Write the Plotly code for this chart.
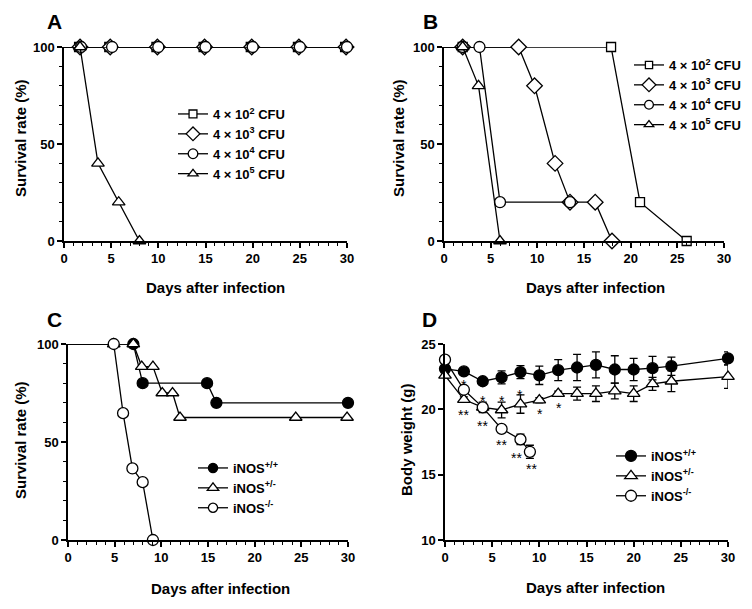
import plotly.graph_objects as go

# ---------------- data ----------------
# Panel A: survival by inoculum dose
a_days_lo = [0, 1.6, 4.8, 9.8, 14.8, 19.8, 24.8, 29.8]
a_surv_lo = [100, 100, 100, 100, 100, 100, 100, 100]
a_days_mid = [0, 1.7, 4.9, 9.9, 14.9, 19.9, 24.9, 29.9]
a_surv_mid = [100, 100, 100, 100, 100, 100, 100, 100]
a_days_hi = [0, 1.8, 5.1, 10, 15, 20, 25, 30]
a_surv_hi = [100, 100, 100, 100, 100, 100, 100, 100]
a_days_max = [0, 1.7, 3.6, 5.8, 8]
a_surv_max = [100, 100, 40, 20, 0]

# Panel B
b_days_lo = [0, 2, 17.9, 21, 26]
b_surv_lo = [100, 100, 100, 20, 0]
b_days_mid = [0, 2, 8, 9.7, 11.9, 13.5, 16.2, 18]
b_surv_mid = [100, 100, 100, 80, 40, 20, 20, 0]
b_days_hi = [0, 2, 3.8, 6, 13.5]
b_surv_hi = [100, 100, 100, 20, 20]
b_days_max = [0, 2, 3.7, 6]
b_surv_max = [100, 100, 80, 0]

dose_labels = ['4 × 10<sup>2</sup> CFU', '4 × 10<sup>3</sup> CFU',
               '4 × 10<sup>4</sup> CFU', '4 × 10<sup>5</sup> CFU']

# Panel C: survival by genotype
c_days_wt = [0, 7, 8, 14.9, 15.9, 30]
c_surv_wt = [100, 100, 80, 80, 70, 70]
c_days_het = [0, 4.9, 7, 7.9, 9.1, 10.1, 11.2, 12, 24.4, 29.9]
c_surv_het = [100, 100, 100, 88.5, 88.5, 75, 75, 62.5, 62.5, 62.5]
c_days_ko = [0, 4.9, 5.9, 6.9, 8, 9.1]
c_surv_ko = [100, 100, 64.7, 36.5, 29.5, 0]

geno_labels = ['iNOS<sup>+/+</sup>', 'iNOS<sup>+/-</sup>', 'iNOS<sup>-/-</sup>']

# Panel D: body weight (mean, SD)
d_days_wt = [0, 2, 4, 6, 8, 10, 12, 14, 16, 18, 20, 22, 24, 30]
d_wt_mean = [23.1, 22.9, 22.15, 22.45, 22.85, 22.6, 23.0, 23.2, 23.4, 23.05, 23.05, 23.15, 23.3, 23.9]
d_wt_sd = [0.2, 0.15, 0.15, 0.5, 0.5, 0.7, 0.8, 1.0, 1.0, 1.05, 0.85, 0.9, 0.7, 0.5]
d_days_het = [0, 2, 4, 6, 8, 10, 12, 14, 16, 18, 20, 22, 24, 30]
d_het_mean = [22.6, 20.75, 20.15, 19.95, 20.4, 20.7, 21.2, 21.2, 21.2, 21.4, 21.2, 21.95, 22.15, 22.5]
d_het_sd = [0.2, 0.2, 0.4, 0.6, 0.7, 0.2, 0.2, 0.5, 0.6, 0.6, 0.6, 0.5, 0.8, 0.9]
d_days_ko = [0, 2, 4, 6, 8, 9]
d_ko_mean = [23.8, 21.5, 20.15, 18.5, 17.7, 16.75]
d_ko_sd = [0.2, 0.2, 0.3, 0.2, 0.4, 0.5]

star_days = [2, 2, 4, 4, 6, 6, 8, 7.6, 9.2, 10.1, 12.1]
star_weights = [22.1, 19.8, 20.9, 18.95, 20.9, 17.5, 21.3, 16.5, 15.7, 19.9, 20.3]
star_labels = ['*', '**', '*', '**', '*', '**', '*', '**', '**', '*', '*']

# ---------------- styling ----------------
FONT = 'Liberation Sans'
PAD = 8                      # page body margin around the plot div
W, H = 752 - 2 * PAD, 609 - 2 * PAD


def px_x(p):
    return (p - PAD) / W


def px_y(p):
    return 1 - (p - PAD) / H


def line_trace(x, y, name, symbol, fill, xa, ya, leg, size=10, skip_first=True):
    sizes = [size] * len(x)
    if skip_first:
        sizes[0] = 0
    return go.Scatter(
        x=x, y=y, name=name, mode='lines+markers', xaxis=xa, yaxis=ya,
        legend=leg, cliponaxis=False,
        line=dict(color='black', width=1.3),
        marker=dict(symbol=symbol, size=sizes, color=fill, opacity=1,
                    line=dict(color='black', width=1.3)),
    )


fig = go.Figure()

# Panel A
fig.add_trace(line_trace(a_days_lo, a_surv_lo, dose_labels[0], 'square', 'white', 'x', 'y', 'legend', 9))
fig.add_trace(line_trace(a_days_mid, a_surv_mid, dose_labels[1], 'diamond', 'white', 'x', 'y', 'legend', 12))
fig.add_trace(line_trace(a_days_hi, a_surv_hi, dose_labels[2], 'circle', 'white', 'x', 'y', 'legend', 11))
fig.add_trace(line_trace(a_days_max, a_surv_max, dose_labels[3], 'triangle-up', 'white', 'x', 'y', 'legend', 11))

# Panel B
fig.add_trace(line_trace(b_days_lo, b_surv_lo, dose_labels[0], 'square', 'white', 'x2', 'y2', 'legend2', 9))
fig.add_trace(line_trace(b_days_mid, b_surv_mid, dose_labels[1], 'diamond', 'white', 'x2', 'y2', 'legend2', 12))
fig.add_trace(line_trace(b_days_hi, b_surv_hi, dose_labels[2], 'circle', 'white', 'x2', 'y2', 'legend2', 11))
fig.add_trace(line_trace(b_days_max, b_surv_max, dose_labels[3], 'triangle-up', 'white', 'x2', 'y2', 'legend2', 11))

# Panel C
fig.add_trace(line_trace(c_days_wt, c_surv_wt, geno_labels[0], 'circle', 'black', 'x3', 'y3', 'legend3', 11))
fig.add_trace(line_trace(c_days_het, c_surv_het, geno_labels[1], 'triangle-up', 'white', 'x3', 'y3', 'legend3', 11))
fig.add_trace(line_trace(c_days_ko, c_surv_ko, geno_labels[2], 'circle', 'white', 'x3', 'y3', 'legend3', 11))

# Panel D
for xs, ys, sd, lab, sym, fill in [
    (d_days_wt, d_wt_mean, d_wt_sd, geno_labels[0], 'circle', 'black'),
    (d_days_het, d_het_mean, d_het_sd, geno_labels[1], 'triangle-up', 'white'),
    (d_days_ko, d_ko_mean, d_ko_sd, geno_labels[2], 'circle', 'white'),
]:
    t = line_trace(xs, ys, lab, sym, fill, 'x4', 'y4', 'legend4', 11, skip_first=False)
    t.error_y = dict(type='data', array=sd, visible=True, color='black', thickness=1.3, width=4)
    fig.add_trace(t)

tickfont = dict(family=FONT, size=13, color='black', weight='bold')


def xax(dom, anchor):
    return dict(domain=dom, anchor=anchor, range=[0, 30], tick0=0, dtick=5,
                showline=True, linecolor='black', linewidth=1.5, automargin=False,
                ticks='outside', ticklen=5, tickwidth=1.5, tickcolor='black',
                minor=dict(dtick=1, ticks='outside', ticklen=3, tickwidth=1, tickcolor='black'),
                showgrid=False, zeroline=False, tickfont=tickfont, fixedrange=True)


def yax(dom, anchor, rng, dtick, minor_dtick):
    d = dict(domain=dom, anchor=anchor, range=rng, tick0=rng[0], dtick=dtick,
             showline=True, linecolor='black', linewidth=1.5, automargin=False,
             ticks='outside', ticklen=5, tickwidth=1.5, tickcolor='black',
             showgrid=False, zeroline=False, tickfont=tickfont, fixedrange=True)
    if minor_dtick:
        d['minor'] = dict(dtick=minor_dtick, ticks='outside', ticklen=3, tickwidth=1, tickcolor='black')
    return d


top = [px_y(241), px_y(47)]
bot = [px_y(540), px_y(344)]

legend_common = dict(bgcolor='rgba(0,0,0,0)', borderwidth=0, xanchor='left', yanchor='top',
                     font=dict(family=FONT, size=13, color='black', weight='bold'),
                     tracegroupgap=0, itemclick=False)

fig.update_layout(
    template='none',
    width=W, height=H,
    margin=dict(l=0, r=0, t=0, b=0, autoexpand=False),
    paper_bgcolor='white', plot_bgcolor='white',
    xaxis=xax([px_x(64), px_x(347)], 'y'),
    yaxis=yax(top, 'x', [0, 100], 50, 10),
    xaxis2=xax([px_x(444), px_x(724)], 'y2'),
    yaxis2=yax(top, 'x2', [0, 100], 50, 10),
    xaxis3=xax([px_x(68), px_x(348)], 'y3'),
    yaxis3=yax(bot, 'x3', [0, 100], 50, 10),
    xaxis4=xax([px_x(445), px_x(728)], 'y4'),
    yaxis4=yax(bot, 'x4', [10, 25], 5, None),
    legend=dict(legend_common, x=px_x(173), y=px_y(99)),
    legend2=dict(legend_common, x=px_x(629), y=px_y(50)),
    legend3=dict(legend_common, x=px_x(193), y=px_y(453)),
    legend4=dict(legend_common, x=px_x(611), y=px_y(441)),
    showlegend=True,
)

# panel letters
for lab, x, y in [('A', 54, 8.5), ('B', 430, 8.5), ('C', 54, 306), ('D', 429, 306)]:
    fig.add_annotation(text=lab, x=px_x(x), y=px_y(y), xref='paper', yref='paper',
                       xanchor='center', yanchor='top',
                       showarrow=False, font=dict(family=FONT, size=21, color='black', weight='bold'))

# axis titles
title_font = dict(family=FONT, size=15, color='black', weight='bold')
for x, y in [(215, 287), (595, 287), (220, 588), (595, 587)]:
    fig.add_annotation(text='Days after infection', x=px_x(x), y=px_y(y), xref='paper', yref='paper',
                       xanchor='center', yanchor='middle', showarrow=False, font=title_font)
for txt, x, y in [('Survival rate (%)', 20, 138), ('Survival rate (%)', 398, 138),
                  ('Survival rate (%)', 20, 440), ('Body weight (g)', 406, 440)]:
    fig.add_annotation(text=txt, x=px_x(x), y=px_y(y), xref='paper', yref='paper',
                       xanchor='center', yanchor='middle',
                       showarrow=False, textangle=-90, font=title_font)

# significance marks in panel D
for sx, sy, st in zip(star_days, star_weights, star_labels):
    fig.add_annotation(text=st, x=sx, y=sy, xref='x4', yref='y4', showarrow=False,
                       yshift=-3, font=dict(family=FONT, size=14, color='black'))

fig.write_html("out.html")
